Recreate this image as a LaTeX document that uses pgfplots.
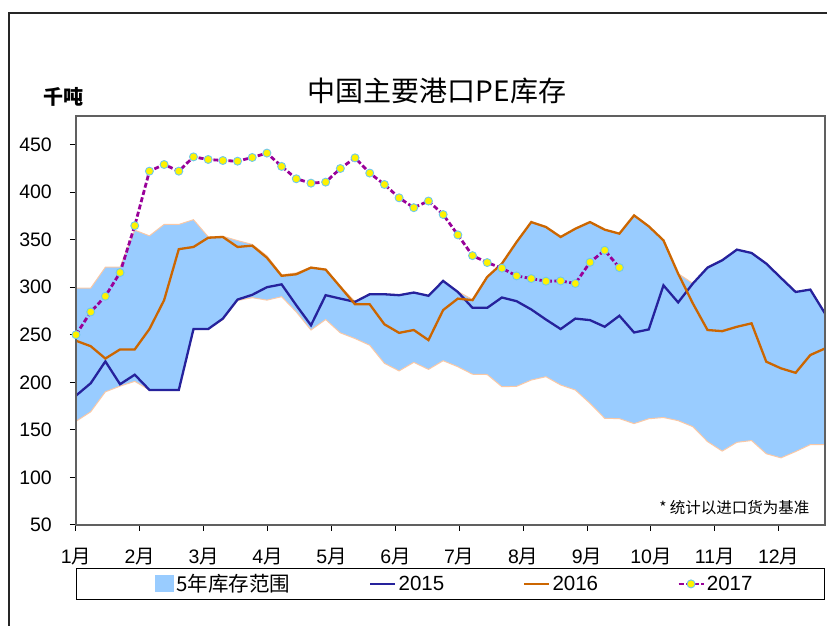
\documentclass[border=0pt]{standalone}
\usepackage{pgfplots}
\usepackage{pgfplotstable}
\pgfplotsset{compat=1.18}
\usepackage{fontspec}
\setmainfont{Liberation Sans}
\newfontfamily\cjk{Noto Sans CJK SC}
\definecolor{rangeblue}{RGB}{153,204,255}
\definecolor{peach}{RGB}{250,200,165}
\definecolor{c15}{RGB}{38,34,156}
\definecolor{c16}{RGB}{204,102,0}
\definecolor{c17}{RGB}{153,0,153}
\definecolor{mkedge}{RGB}{110,200,235}

\pgfplotstableread{
w up lo a b
0 299 159 186 243.7
1 299 169 199 238
2 321 190 222 225
3 321 196 198 234.6
4 360 201 208 234.6
5 354 192 192 256
6 366 192 192 286.4
7 366 192 192 340
8 371 256 256 342.3
9 353 256 256 352
10 353.5 266 267 352.8
11 349 286 287 342.3
12 345 289 292 343.7
13 333 286.4 300 331
14 313 290 303 312
15 315 274 281 313.6
16 321 255 260 320.6
17 319 266 291.6 318.5
18 301 252 288 300.3
19 285 246 284.6 282
20 293 239 292.6 282
21 293 220 292.6 261
22 292 212 291.6 252
23 294.5 221 294.4 255
24 291 213.6 291 244.4
25 307 222.7 306.6 276
26 295.5 216.4 295 288
27 287 208.5 278.3 286.4
28 311 208.2 278.3 310.8
29 325 195.4 289.2 324.8
30 347.5 195.8 285.3 347.5
31 368.5 202.4 276.6 368.5
32 363.3 205.9 266 363.3
33 353 197.2 256 352.8
34 361.5 191.9 267 361.5
35 368.5 177.9 265.4 368.5
36 360.5 162.2 258.4 360.5
37 356.3 161.8 270 356.3
38 375.5 156.6 252.4 375.5
39 364 161.7 255.6 364
40 349.3 163 302 349.3
41 314.3 159.7 284 314.3
42 304 153.4 303.8 283
43 321 137.7 320.6 255
44 328.3 127.7 328.3 253.8
45 339.5 136.9 339.5 258.4
46 336 138.8 336 262
47 325 124.9 324.8 221.7
48 310 120.6 309.8 214.7
49 295 127.2 295 210
50 297.5 134.5 297.5 228.7
51 272.4 134.5 272.4 235.6
}\datatab

\pgfplotstableread{
w v
0 250
1 274
2 290.5
3 315.4
4 364.7
5 422
6 429
7 422
8 437
9 434.3
10 433.2
11 432.5
12 436.4
13 441
14 427
15 414
16 409.4
17 410.5
18 424.8
19 436
20 420
21 408
22 394
23 383.6
24 390.6
25 376.4
26 355
27 333.2
28 325.9
29 320
30 311.9
31 309.1
32 306.3
33 306.6
34 303.9
35 326.2
36 338.8
37 320.6
}\tabseven

\begin{document}
\begin{tikzpicture}[x=1pt,y=1pt]
\begin{axis}[
  name=ax, at={(0,0)}, anchor=south west,
  scale only axis, width=749pt, height=409pt,
  xmin=0, xmax=51, ymin=50, ymax=480,
  axis on top,
  axis line style={draw=gray!75!black, line width=1.2pt},
  tick align=outside, tick pos=left,
  major tick length=6pt,
  every tick/.style={black, line width=1pt},
  ytick={50,100,...,450},
  xtick={0,4.35,8.7,13.05,17.4,21.75,26.1,30.45,34.8,39.15,43.5,47.85},
  xticklabels={1\cjk{月},2\cjk{月},3\cjk{月},4\cjk{月},5\cjk{月},6\cjk{月},7\cjk{月},8\cjk{月},9\cjk{月},10\cjk{月},11\cjk{月},12\cjk{月}},
  /pgf/number format/assume math mode=true,
  tick label style={font=\fontsize{19.5}{21}\selectfont},
  yticklabel style={anchor=east, inner sep=0pt, xshift=-18pt},
  xticklabel style={anchor=north, inner sep=0pt, yshift=-17pt},
  legend columns=4,
  legend style={at={(axis description cs:0.5,0)}, anchor=north, yshift=-43pt,
    draw=black, line width=1pt, font=\fontsize{20.5}{22}\selectfont,
    inner xsep=70pt, inner ysep=4pt,
    /tikz/every odd column/.append style={column sep=0pt},
    /tikz/every even column/.append style={column sep=77pt}},
  legend image code/.code={\draw[mark repeat=2,mark phase=2,#1] plot coordinates {(0pt,0pt) (12.5pt,0pt) (25pt,0pt)};},
]
\addplot[fill=rangeblue, draw=peach, line width=1pt,
  legend image code/.code={\path[draw=none,fill=none] (0pt,-1pt) rectangle (28pt,1pt); \fill[rangeblue] (9pt,-8pt) rectangle (27pt,8pt);}]
  table[x=w,y=up] {\datatab} \closedcycle;
\addlegendentry{\cjk{5年库存范围}}
\addplot[fill=white, draw=peach, line width=1pt, forget plot]
  table[x=w,y=lo] {\datatab} \closedcycle;
\addplot[c15, line width=2.3pt] table[x=w,y=a] {\datatab};
\addlegendentry{2015}
\addplot[c16, line width=2.3pt] table[x=w,y=b] {\datatab};
\addlegendentry{2016}
\addplot[c17, line width=2.8pt, dash pattern=on 5pt off 2.5pt, mark=*, mark size=4pt,
  mark options={solid, fill=yellow, draw=mkedge, line width=0.9pt}]
  table[x=w,y=v] {\tabseven};
\addlegendentry{2017}
\draw[black, line width=1.3pt] (rel axis cs:0,1) -- (rel axis cs:0,0) -- (rel axis cs:1,0);
\end{axis}
\path (ax.south west) ++(-76,-101) coordinate (O);
\begin{scope}[shift={(O)}]
\draw[line width=1.3pt, black!85] (9,-20) -- (9,613) -- (850,613);
\node[font=\cjk\fontsize{28}{30}\selectfont] at (437,535) {中国主要港口PE库存};
\node[font=\cjk\bfseries\fontsize{20}{22}\selectfont] at (64,529) {千吨};
\node[font=\cjk\fontsize{15.5}{17}\selectfont, anchor=east] at (813,118) {* 统计以进口货为基准};
\end{scope}
\pgfresetboundingbox
\path[use as bounding box] (O) rectangle ++(827,626);
\end{tikzpicture}
\end{document}
